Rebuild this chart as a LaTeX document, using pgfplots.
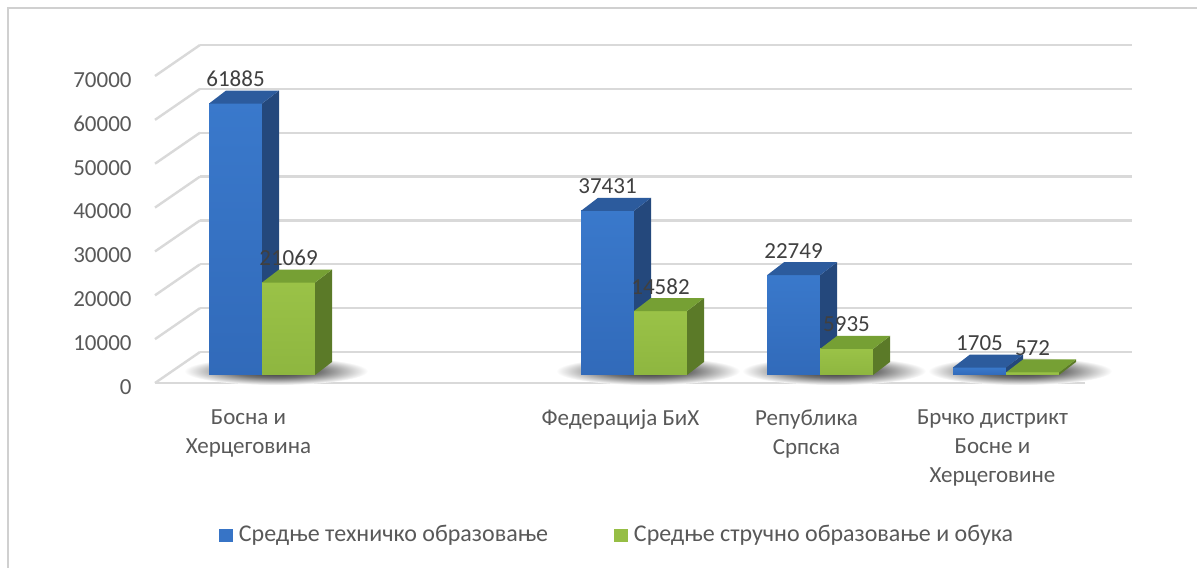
\documentclass[border=0pt]{standalone}
\usepackage{pgfplots}
\usepackage{pgfplotstable}
\pgfplotsset{compat=1.18}
\usepackage{fontspec}
\setmainfont{Carlito}
\definecolor{blueTop}{HTML}{3E80D4}
\definecolor{blueBot}{HTML}{2D63B1}
\definecolor{blueSide}{HTML}{24487C}
\definecolor{blueCap}{HTML}{2C5B9D}
\definecolor{greenTop}{HTML}{A0C84B}
\definecolor{greenBot}{HTML}{88B03C}
\definecolor{greenSide}{HTML}{5B7A28}
\definecolor{greenCap}{HTML}{76A034}
\definecolor{gridc}{HTML}{D9D9D9}
\definecolor{framec}{HTML}{D0D0D0}
\definecolor{tickc}{HTML}{595959}
\definecolor{labc}{HTML}{404040}
\pgfdeclareverticalshading{blueshade}{100bp}{color(0bp)=(blueBot); color(100bp)=(blueTop)}
\pgfdeclareverticalshading{greenshade}{100bp}{color(0bp)=(greenBot); color(100bp)=(greenTop)}
\pgfdeclareradialshading{shadowshade}{\pgfpoint{0bp}{0bp}}{color(0bp)=(black!85); color(12bp)=(black!55); color(25bp)=(white); color(50bp)=(white)}
\newcommand\barthreed[4]{%
  \pgfmathsetlengthmacro\barH{\barval}%
  \pgfpathrectanglecorners{\pgfpoint{#1}{-\barH}}{\pgfpoint{#1+26.5pt}{0pt}}%
  \pgfshadepath{#2}{0}\pgfusepath{}%
  \pgfsetfillcolor{#3}%
  \pgfpathmoveto{\pgfpoint{#1+26.5pt}{-\barH}}%
  \pgfpathlineto{\pgfpoint{#1+35pt}{-\barH+6.5pt}}%
  \pgfpathlineto{\pgfpoint{#1+35pt}{6.5pt}}%
  \pgfpathlineto{\pgfpoint{#1+26.5pt}{0pt}}%
  \pgfpathclose\pgfusepath{fill}%
  \pgfsetfillcolor{#4}%
  \pgfpathmoveto{\pgfpoint{#1}{0pt}}%
  \pgfpathlineto{\pgfpoint{#1+8.5pt}{6.5pt}}%
  \pgfpathlineto{\pgfpoint{#1+35pt}{6.5pt}}%
  \pgfpathlineto{\pgfpoint{#1+26.5pt}{0pt}}%
  \pgfpathclose\pgfusepath{fill}%
}
\pgfdeclareplotmark{barblue}{\barthreed{-26.5pt}{blueshade}{blueSide}{blueCap}}
\pgfdeclareplotmark{bargreen}{\barthreed{0pt}{greenshade}{greenSide}{greenCap}}
\pgfdeclareplotmark{barshadow}{%
  \pgfpathellipse{\pgfpoint{7pt}{2pt}}{\pgfpoint{46pt}{0pt}}{\pgfpoint{0pt}{7pt}}%
  \pgfshadepath{shadowshade}{0}\pgfusepath{}}
\pgfplotstableread{
x y
0 61885
2 37431
3 22749
4 1705
}\tabTech
\pgfplotstableread{
x y
0 21069
2 14582
3 5935
4 572
}\tabVoc
\newcommand\cfont{\fontsize{11.5}{14.5}\selectfont}
\begin{document}
\begin{tikzpicture}
\useasboundingbox (0pt,0pt) rectangle (598.5pt,283.5pt);
\fill[white] (0pt,0pt) rectangle (598.5pt,283.5pt);
\draw[framec, line width=0.8pt] (4pt,-2pt) -- (4pt,279.5pt) -- (600pt,279.5pt);
% back wall with grid lines
\begin{axis}[at={(100pt,107.5pt)}, anchor=south west, scale only axis,
  width=466pt, height=153.5pt, xmin=0, xmax=1, ymin=0, ymax=70000,
  ytick={0,10000,20000,30000,40000,50000,60000,70000}, yticklabels={}, scaled y ticks=false,
  xtick=\empty, ymajorgrids, grid style={gridc, line width=1.2pt},
  axis line style={draw=none}, major tick length=0pt, clip=false]
\pgfplotsinvokeforeach{0,10000,20000,30000,40000,50000,60000,70000}{
  \draw[gridc, line width=1.2pt] (axis cs:0,#1) -- ++(-22.5pt,-15.5pt);}
\draw[gridc, line width=1.2pt] (axis cs:0,0) ++(-22.5pt,-15.5pt) -- ++(465pt,0pt);
\end{axis}
% bars
\begin{axis}[at={(84.5pt,96pt)}, anchor=south west, scale only axis,
  width=465pt, height=153.5pt, xmin=-0.5, xmax=4.5, ymin=0, ymax=70000,
  clip=false, axis line style={draw=none}, major tick length=0pt,
  ytick={0,10000,20000,30000,40000,50000,60000,70000}, scaled y ticks=false,
  yticklabel style={anchor=east, inner sep=0pt, xshift=-18.5pt, yshift=-6pt,
    font=\cfont, text=tickc, /pgf/number format/.cd, fixed, 1000 sep={}, assume math mode=true},
  xtick={0,2,3,4},
  xticklabels={{Босна и\\Херцеговина},{Федерација БиХ},{Република\\Српска},{Брчко дистрикт\\Босне и\\Херцеговине}},
  xticklabel style={align=center, anchor=north, font=\cfont, text=tickc, xshift=-6.75pt, yshift=-14pt},
  nodes near coords style={anchor=base, yshift=8.5pt, inner sep=0pt, font=\cfont, text=labc},
  legend style={at={(0.484,-0.521)}, anchor=center, draw=none, fill=none, legend columns=2,
    font=\fontsize{12}{14}\selectfont, text=tickc, nodes={inner xsep=3pt},
    /tikz/every even column/.append style={column sep=30pt}},
  legend cell align=left]
\addplot[forget plot, only marks, mark=barshadow] table[x=x, y expr=0] {\tabTech};
\addplot[only marks, mark=barblue, visualization depends on={rawy/70000*153.5 \as \barval},
  nodes near coords, point meta=explicit symbolic,
  every node near coord/.append style={xshift=-13.25pt},
  legend image code/.code={\fill[blueTop!60!blueBot] (0pt,-3pt) rectangle (6.5pt,3pt);}]
  table[x=x, y=y, meta=y] {\tabTech};
\addlegendentry{Средње техничко образовање}
\addplot[only marks, mark=bargreen, visualization depends on={rawy/70000*153.5 \as \barval},
  nodes near coords, point meta=explicit symbolic,
  every node near coord/.append style={xshift=13.25pt},
  legend image code/.code={\fill[greenTop!60!greenBot] (0pt,-3pt) rectangle (6.5pt,3pt);}]
  table[x=x, y=y, meta=y] {\tabVoc};
\addlegendentry{Средње стручно образовање и обука}
\end{axis}
\end{tikzpicture}
\end{document}
